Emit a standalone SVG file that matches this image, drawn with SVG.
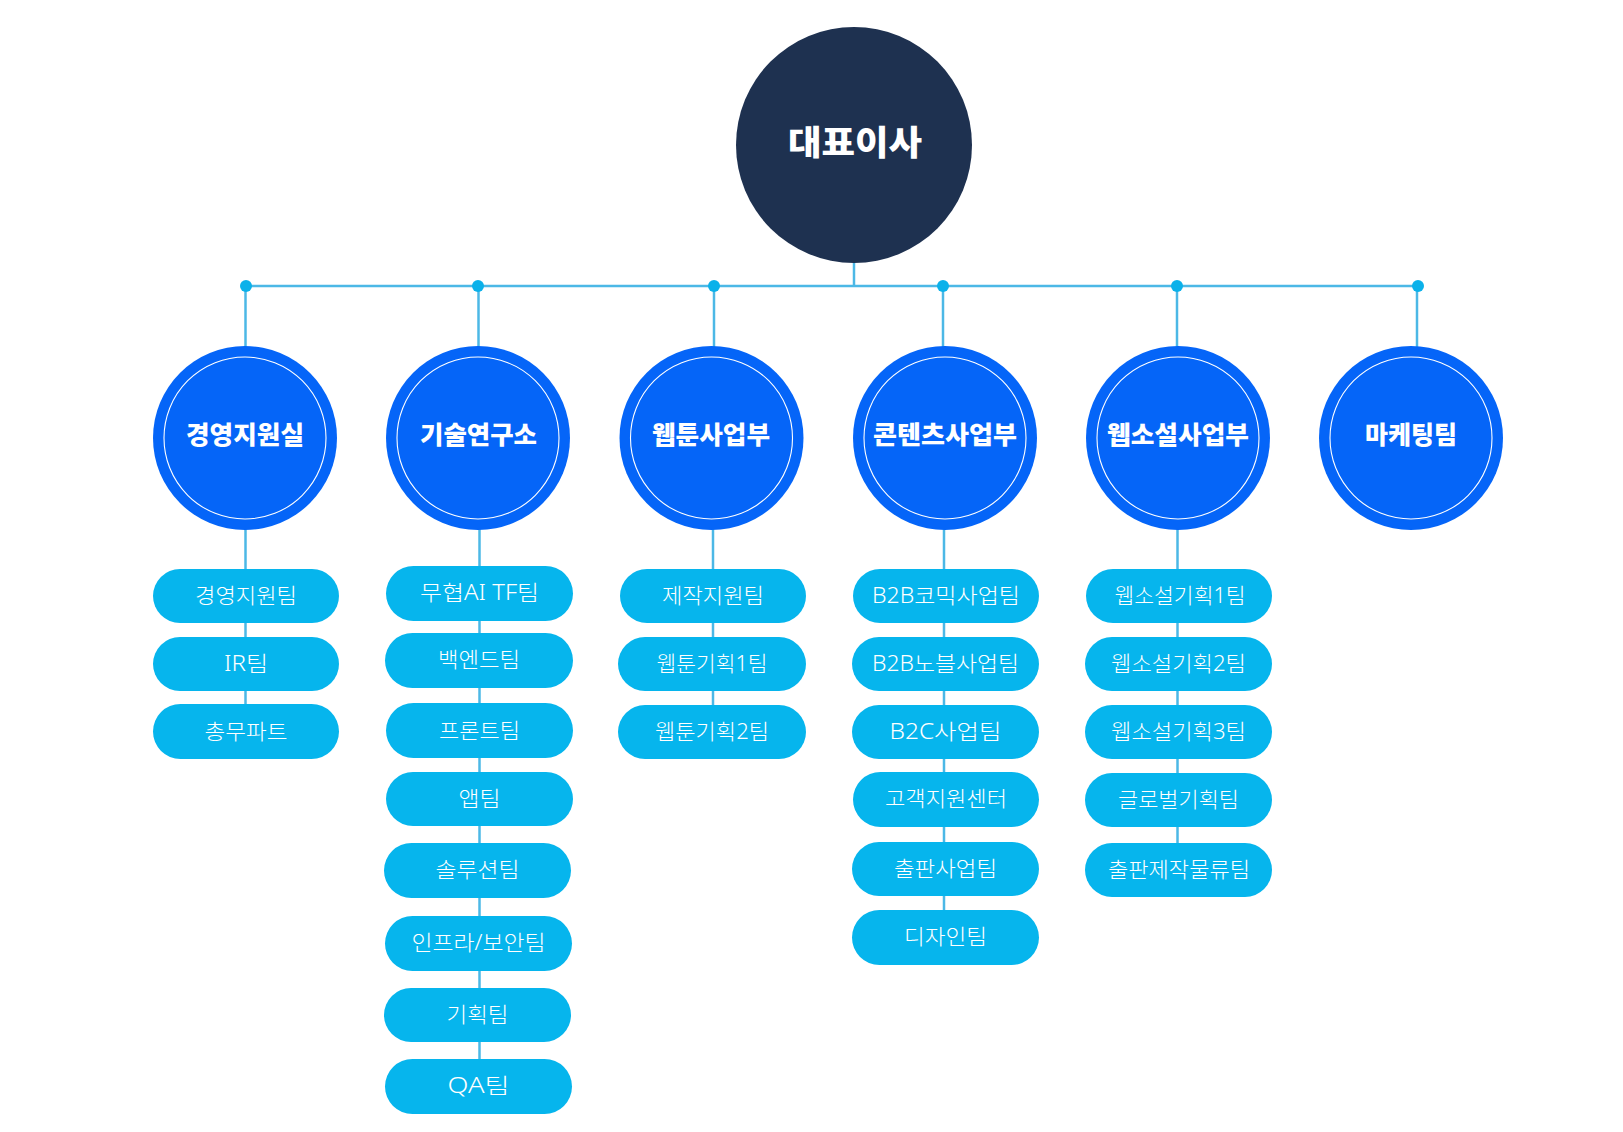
<svg xmlns="http://www.w3.org/2000/svg" width="1623" height="1132" viewBox="0 0 1623 1132">
<style>
.bg{fill:#ffffff}
.ln{stroke:#4cb8e6;stroke-width:2.5;fill:none}
.dot{fill:#0bb1ea}
.ceo{fill:#1e3150}
.dept{fill:#0565f8}
.ring{fill:none;stroke:#ffffff;stroke-width:1.1}
.pill{fill:#06b5ed}
.t-ceo{font-family:"Liberation Sans","Noto Sans CJK KR",sans-serif;font-size:34px;font-weight:900;fill:#ffffff;text-anchor:middle}
.t-dept{font-family:"Liberation Sans","Noto Sans CJK KR",sans-serif;font-size:25px;font-weight:900;fill:#ffffff;text-anchor:middle}
.t-team{font-family:"Noto Sans","Noto Sans CJK KR",sans-serif;font-size:21px;font-weight:300;fill:#ffffff;text-anchor:middle}
</style>
<rect class="bg" x="0" y="0" width="1623" height="1132"/>

<g id="connectors">
  <line class="ln" x1="854" y1="262" x2="854" y2="286"/>
  <line class="ln" x1="246" y1="286" x2="1418" y2="286"/>
  <line class="ln" x1="245.5" y1="286" x2="245.5" y2="731"/>
  <line class="ln" x1="478.5" y1="286" x2="478.5" y2="350"/>
  <line class="ln" x1="479.5" y1="520" x2="479.5" y2="1086"/>
  <line class="ln" x1="714" y1="286" x2="714" y2="350"/>
  <line class="ln" x1="713" y1="520" x2="713" y2="732"/>
  <line class="ln" x1="943" y1="286" x2="943" y2="350"/>
  <line class="ln" x1="944" y1="520" x2="944" y2="937"/>
  <line class="ln" x1="1177" y1="286" x2="1177" y2="350"/>
  <line class="ln" x1="1177.5" y1="520" x2="1177.5" y2="870"/>
  <line class="ln" x1="1417" y1="286" x2="1417" y2="350"/>
  <circle class="dot" cx="246" cy="286" r="6"/>
  <circle class="dot" cx="478" cy="286" r="6"/>
  <circle class="dot" cx="714" cy="286" r="6"/>
  <circle class="dot" cx="943" cy="286" r="6"/>
  <circle class="dot" cx="1177" cy="286" r="6"/>
  <circle class="dot" cx="1418" cy="286" r="6"/>
</g>

<g id="ceo">
  <circle class="ceo" cx="854" cy="145" r="118"/>
  <text class="t-ceo" x="855" y="155" textLength="134" lengthAdjust="spacingAndGlyphs">대표이사</text>
</g>

<g id="dept-mgmt">
  <circle class="dept" cx="245" cy="438" r="92"/>
  <circle class="ring" cx="245" cy="438" r="81"/>
  <text class="t-dept" x="245" y="444" textLength="118" lengthAdjust="spacingAndGlyphs">경영지원실</text>
</g>
<g id="dept-tech">
  <circle class="dept" cx="478" cy="438" r="92"/>
  <circle class="ring" cx="478" cy="438" r="81"/>
  <text class="t-dept" x="478.5" y="444" textLength="117" lengthAdjust="spacingAndGlyphs">기술연구소</text>
</g>
<g id="dept-webtoon">
  <circle class="dept" cx="711.5" cy="438" r="92"/>
  <circle class="ring" cx="711.5" cy="438" r="81"/>
  <text class="t-dept" x="711" y="444" textLength="118" lengthAdjust="spacingAndGlyphs">웹툰사업부</text>
</g>
<g id="dept-content">
  <circle class="dept" cx="945" cy="438" r="92"/>
  <circle class="ring" cx="945" cy="438" r="81"/>
  <text class="t-dept" x="945" y="444" textLength="144" lengthAdjust="spacingAndGlyphs">콘텐츠사업부</text>
</g>
<g id="dept-webnovel">
  <circle class="dept" cx="1178" cy="438" r="92"/>
  <circle class="ring" cx="1178" cy="438" r="81"/>
  <text class="t-dept" x="1178" y="444" textLength="142" lengthAdjust="spacingAndGlyphs">웹소설사업부</text>
</g>
<g id="dept-marketing">
  <circle class="dept" cx="1411" cy="438" r="92"/>
  <circle class="ring" cx="1411" cy="438" r="81"/>
  <text class="t-dept" x="1411" y="444" textLength="92" lengthAdjust="spacingAndGlyphs">마케팅팀</text>
</g>

<g id="team-mgmt-support">
  <rect class="pill" x="153" y="569" width="186" height="54" rx="27"/>
  <text class="t-team" x="246" y="603" textLength="102" lengthAdjust="spacingAndGlyphs">경영지원팀</text>
</g>
<g id="team-ir">
  <rect class="pill" x="153" y="637" width="186" height="54" rx="27"/>
  <text class="t-team" x="246" y="671" textLength="44" lengthAdjust="spacingAndGlyphs">IR팀</text>
</g>
<g id="team-general">
  <rect class="pill" x="153" y="704" width="186" height="55" rx="27.5"/>
  <text class="t-team" x="246" y="739" textLength="83" lengthAdjust="spacingAndGlyphs">총무파트</text>
</g>

<g id="team-ai-tf">
  <rect class="pill" x="386" y="566" width="187" height="55" rx="27.5"/>
  <text class="t-team" x="479.5" y="600" textLength="119" lengthAdjust="spacingAndGlyphs">무협AI TF팀</text>
</g>
<g id="team-backend">
  <rect class="pill" x="385" y="633" width="188" height="55" rx="27.5"/>
  <text class="t-team" x="479" y="667" textLength="82" lengthAdjust="spacingAndGlyphs">백엔드팀</text>
</g>
<g id="team-frontend">
  <rect class="pill" x="386" y="703" width="187" height="55" rx="27.5"/>
  <text class="t-team" x="479.5" y="738" textLength="81" lengthAdjust="spacingAndGlyphs">프론트팀</text>
</g>
<g id="team-app">
  <rect class="pill" x="386" y="772" width="187" height="54" rx="27"/>
  <text class="t-team" x="479.5" y="806" textLength="42" lengthAdjust="spacingAndGlyphs">앱팀</text>
</g>
<g id="team-solution">
  <rect class="pill" x="384" y="843" width="187" height="55" rx="27.5"/>
  <text class="t-team" x="477.5" y="877" textLength="84" lengthAdjust="spacingAndGlyphs">솔루션팀</text>
</g>
<g id="team-infra">
  <rect class="pill" x="385" y="916" width="187" height="55" rx="27.5"/>
  <text class="t-team" x="478.5" y="950" textLength="134" lengthAdjust="spacingAndGlyphs">인프라/보안팀</text>
</g>
<g id="team-planning">
  <rect class="pill" x="384" y="988" width="187" height="54" rx="27"/>
  <text class="t-team" x="477.5" y="1022" textLength="62" lengthAdjust="spacingAndGlyphs">기획팀</text>
</g>
<g id="team-qa">
  <rect class="pill" x="385" y="1059" width="187" height="55" rx="27.5"/>
  <text class="t-team" x="478.5" y="1093" textLength="62" lengthAdjust="spacingAndGlyphs">QA팀</text>
</g>

<g id="team-production">
  <rect class="pill" x="620" y="569" width="186" height="54" rx="27"/>
  <text class="t-team" x="713" y="603" textLength="102" lengthAdjust="spacingAndGlyphs">제작지원팀</text>
</g>
<g id="team-webtoon1">
  <rect class="pill" x="618" y="637" width="188" height="54" rx="27"/>
  <text class="t-team" x="712" y="671" textLength="111" lengthAdjust="spacingAndGlyphs">웹툰기획1팀</text>
</g>
<g id="team-webtoon2">
  <rect class="pill" x="618" y="705" width="188" height="54" rx="27"/>
  <text class="t-team" x="712" y="739" textLength="114" lengthAdjust="spacingAndGlyphs">웹툰기획2팀</text>
</g>

<g id="team-b2b-comic">
  <rect class="pill" x="853" y="569" width="186" height="54" rx="27"/>
  <text class="t-team" x="946" y="603" textLength="148" lengthAdjust="spacingAndGlyphs">B2B코믹사업팀</text>
</g>
<g id="team-b2b-novel">
  <rect class="pill" x="852" y="637" width="187" height="54" rx="27"/>
  <text class="t-team" x="945.5" y="671" textLength="147" lengthAdjust="spacingAndGlyphs">B2B노블사업팀</text>
</g>
<g id="team-b2c">
  <rect class="pill" x="852" y="705" width="187" height="54" rx="27"/>
  <text class="t-team" x="945.5" y="739" textLength="112" lengthAdjust="spacingAndGlyphs">B2C사업팀</text>
</g>
<g id="team-cs">
  <rect class="pill" x="853" y="772" width="186" height="55" rx="27.5"/>
  <text class="t-team" x="946" y="806" textLength="122" lengthAdjust="spacingAndGlyphs">고객지원센터</text>
</g>
<g id="team-publishing">
  <rect class="pill" x="852" y="842" width="187" height="54" rx="27"/>
  <text class="t-team" x="945.5" y="876" textLength="103" lengthAdjust="spacingAndGlyphs">출판사업팀</text>
</g>
<g id="team-design">
  <rect class="pill" x="852" y="910" width="187" height="55" rx="27.5"/>
  <text class="t-team" x="945.5" y="944" textLength="83" lengthAdjust="spacingAndGlyphs">디자인팀</text>
</g>

<g id="team-webnovel1">
  <rect class="pill" x="1086" y="569" width="186" height="54" rx="27"/>
  <text class="t-team" x="1180" y="603" textLength="131" lengthAdjust="spacingAndGlyphs">웹소설기획1팀</text>
</g>
<g id="team-webnovel2">
  <rect class="pill" x="1085" y="637" width="187" height="54" rx="27"/>
  <text class="t-team" x="1178.5" y="671" textLength="135" lengthAdjust="spacingAndGlyphs">웹소설기획2팀</text>
</g>
<g id="team-webnovel3">
  <rect class="pill" x="1085" y="705" width="187" height="54" rx="27"/>
  <text class="t-team" x="1178.5" y="739" textLength="135" lengthAdjust="spacingAndGlyphs">웹소설기획3팀</text>
</g>
<g id="team-global">
  <rect class="pill" x="1085" y="773" width="187" height="54" rx="27"/>
  <text class="t-team" x="1178.5" y="807" textLength="121" lengthAdjust="spacingAndGlyphs">글로벌기획팀</text>
</g>
<g id="team-pub-logistics">
  <rect class="pill" x="1085" y="843" width="187" height="54" rx="27"/>
  <text class="t-team" x="1179" y="877" textLength="142" lengthAdjust="spacingAndGlyphs">출판제작물류팀</text>
</g>
</svg>
